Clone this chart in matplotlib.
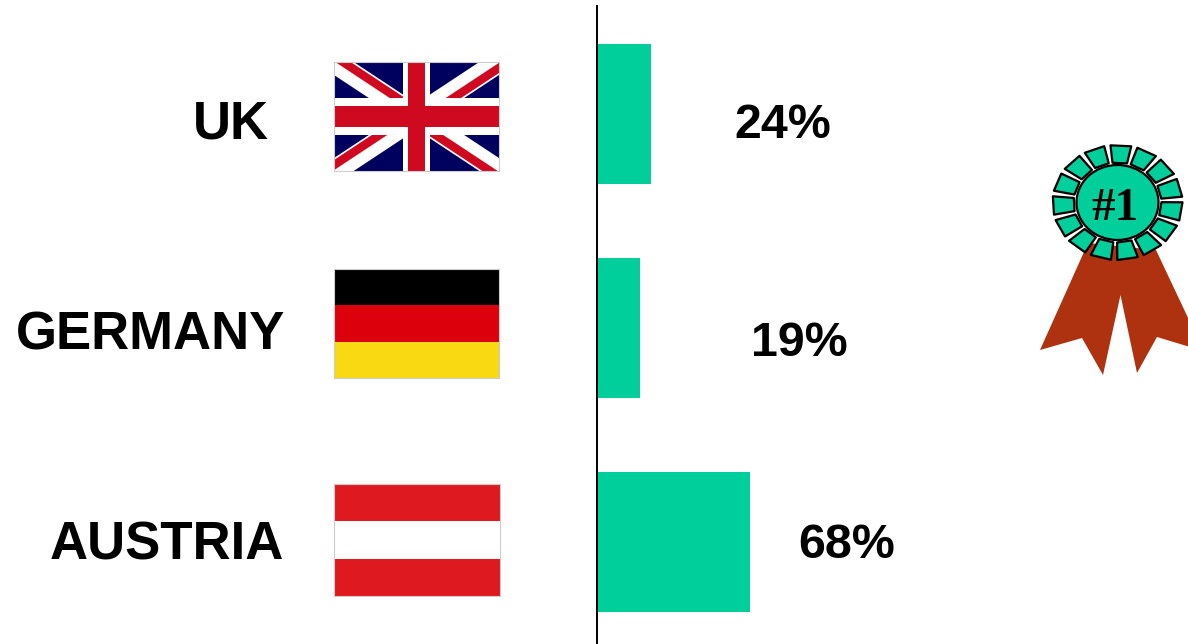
import numpy as np
import matplotlib
matplotlib.use("Agg")
import matplotlib.pyplot as plt
from matplotlib.patches import Polygon, Rectangle, Ellipse

countries = ["UK", "GERMANY", "AUSTRIA"]
shares = [24, 19, 68]

W, H = 1188, 644
GREEN = "#00CF9B"
SANS = "Liberation Sans"

name_right = [269, 285, 284]
name_base = [138, 349, 559]
pct_x = [783, 799, 847]
pct_base = [138, 356, 558]

fig = plt.figure(figsize=(W / 100, H / 100), dpi=100)


def px_axes(left, top, right, bottom):
    return fig.add_axes([left / W, 1 - bottom / H, (right - left) / W, (bottom - top) / H])


# bars, 214 px between the rows and 2.25 px per percent
ax = px_axes(597, 6, W, H)
ax.barh(range(len(shares)), shares, height=0.655, color=GREEN, zorder=1)
ax.set_xlim(0, (W - 597) / 2.25)
ax.set_ylim((H - 114) / 214, -108 / 214)
ax.set_xticks([])
ax.set_yticks([])
for s in ["top", "right", "bottom"]:
    ax.spines[s].set_visible(False)
ax.spines["left"].set_linewidth(1.4)
ax.spines["left"].set_zorder(5)
ax.patch.set_alpha(0)

# overlay in pixel units for the text and the rosette
over = fig.add_axes([0, 0, 1, 1])
over.set_xlim(0, W)
over.set_ylim(H, 0)
over.axis("off")
over.patch.set_alpha(0)

for i, name in enumerate(countries):
    over.text(name_right[i], name_base[i], name, ha="right", va="baseline",
              family=SANS, weight="bold", fontsize=38, color="black")
    over.text(pct_x[i], pct_base[i], f"{shares[i]}%", ha="center", va="baseline",
              family=SANS, weight="bold", fontsize=34.8, color="black")


def flag_axes(left, top, right, bottom):
    a = px_axes(left, top, right, bottom)
    a.set_xticks([])
    a.set_yticks([])
    for s in a.spines.values():
        s.set_color("#CCCCCC")
        s.set_linewidth(0.8)
    return a


def stripes(a, colors):
    a.set_xlim(0, 1)
    a.set_ylim(0, len(colors))
    for k, c in enumerate(colors[::-1]):
        a.add_patch(Rectangle((0, k), 1, 1, color=c, lw=0))


def band(a, p0, p1, off0, off1, color, clip=None):
    # strip alongside the p0-p1 line, between two perpendicular offsets
    p0, p1 = np.array(p0, float), np.array(p1, float)
    d = (p1 - p0) / np.hypot(*(p1 - p0))
    n = np.array([-d[1], d[0]])
    poly = Polygon([p0 + n * off0, p1 + n * off0, p1 + n * off1, p0 + n * off1],
                   closed=True, color=color, lw=0)
    a.add_patch(poly)
    if clip is not None:
        poly.set_clip_path(Rectangle(clip[:2], clip[2], clip[3], transform=a.transData))


# union flag on the usual 60 by 30 grid
uk = flag_axes(334, 62, 499, 171)
uk.set_xlim(0, 60)
uk.set_ylim(0, 30)
NAVY, RED = "#00005E", "#CF0A20"
uk.add_patch(Rectangle((0, 0), 60, 30, color=NAVY, lw=0))
band(uk, (0, 30), (60, 0), -3.2, 3.2, "white")
band(uk, (0, 0), (60, 30), -3.2, 3.2, "white")
band(uk, (0, 30), (30, 15), 0.2, 2.7, RED, (0, 15, 30, 15))
band(uk, (30, 15), (60, 30), -0.2, -2.7, RED, (30, 15, 30, 15))
band(uk, (30, 15), (60, 0), -0.2, -2.7, RED, (30, 0, 30, 15))
band(uk, (0, 0), (30, 15), 0.2, 2.7, RED, (0, 0, 30, 15))
uk.add_patch(Rectangle((25, 0), 10, 30, color="white", lw=0))
uk.add_patch(Rectangle((0, 10), 60, 10, color="white", lw=0))
uk.add_patch(Rectangle((27, 0), 6, 30, color=RED, lw=0))
uk.add_patch(Rectangle((0, 12), 60, 6, color=RED, lw=0))

de = flag_axes(334, 269, 499, 378)
stripes(de, ["#000000", "#DC000C", "#F8D912"])

at = flag_axes(334, 484, 500, 596)
stripes(at, ["#DE1A20", "#FFFFFF", "#DE1A20"])

# rosette: ribbon tails, then 15 petals around the centre disc
cx, cy = 1117.5, 202.5
ribbon_x = [1088, 1040, 1082, 1103, 1120.5, 1137, 1157, 1190, 1190, 1156]
ribbon_y = [243, 350, 338, 375, 295, 373, 337, 347, 322, 250]
over.add_patch(Polygon(list(zip(ribbon_x, ribbon_y)), closed=True, color="#AE3210", lw=0, zorder=2))

rx_in, ry_in, rx_out, ry_out = 44, 40, 65, 57.5
half_in = np.radians(9.5)
half_out = np.radians(9.2)
for ang in np.radians(np.arange(0, 360, 24) + 15):
    pts = [(cx + rx_in * np.cos(ang - half_in), cy - ry_in * np.sin(ang - half_in)),
           (cx + rx_out * np.cos(ang - half_out), cy - ry_out * np.sin(ang - half_out)),
           (cx + rx_out * np.cos(ang + half_out), cy - ry_out * np.sin(ang + half_out)),
           (cx + rx_in * np.cos(ang + half_in), cy - ry_in * np.sin(ang + half_in))]
    over.add_patch(Polygon(pts, closed=True, facecolor=GREEN, edgecolor="black", lw=1.6,
                           joinstyle="round", zorder=3))
over.add_patch(Ellipse((cx, cy), 2 * 41, 2 * 37.5, facecolor=GREEN, edgecolor="black", lw=1.6, zorder=4))
over.text(1114.5, 220, "#1", ha="center", va="baseline", family="Liberation Serif", weight="bold",
          fontsize=34, color="black", zorder=5)

fig.savefig("out.png", dpi=100, facecolor="white")
